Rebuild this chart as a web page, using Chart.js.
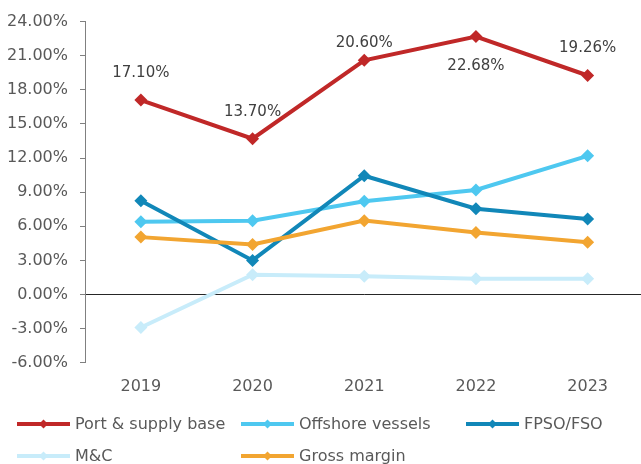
<!DOCTYPE html>
<html>
<head>
<meta charset="utf-8">
<script src="https://cdn.jsdelivr.net/npm/chart.js@4.4.1/dist/chart.umd.min.js"></script>
<style>
  html, body { margin: 0; padding: 0; background: #fff; overflow: hidden; }
  #wrap { width: 650px; height: 464px; }
</style>
</head>
<body>
<div id="wrap"><canvas id="chart" width="650" height="464"></canvas></div>
<script>
// values in %
const YEARS = ['2019', '2020', '2021', '2022', '2023'];
const PORT_SUPPLY = [17.10, 13.70, 20.60, 22.68, 19.26];
const OFFSHORE_VESSELS = [6.4, 6.5, 8.2, 9.2, 12.2];
const FPSO_FSO = [8.25, 3.0, 10.45, 7.55, 6.65];
const M_AND_C = [-2.9, 1.75, 1.6, 1.4, 1.4];
const GROSS_MARGIN = [5.05, 4.4, 6.5, 5.45, 4.6];
const Y_MIN = -6, Y_MAX = 24, Y_STEP = 3;

const FONT = '"DejaVu Sans", Verdana, sans-serif';
const TEXT = '#595959';

const series = [
    { label: 'Port & supply base', data: PORT_SUPPLY, color: '#C02828' },
    { label: 'Offshore vessels', data: OFFSHORE_VESSELS, color: '#4EC8F0' },
    { label: 'FPSO/FSO', data: FPSO_FSO, color: '#1187B8' },
    { label: 'M&C', data: M_AND_C, color: '#C8ECFA' },
    { label: 'Gross margin', data: GROSS_MARGIN, color: '#F2A531' }
];

// labels on the first series; negative dy = above the point
const valueLabels = {
    id: 'valueLabels',
    afterDatasetsDraw(chart, args, opts) {
        const ctx = chart.ctx;
        const meta = chart.getDatasetMeta(0);
        ctx.save();
        ctx.font = '15px ' + FONT;
        ctx.fillStyle = '#404040';
        ctx.textAlign = 'center';
        ctx.textBaseline = 'middle';
        meta.data.forEach((pt, i) => {
            const v = chart.data.datasets[0].data[i];
            ctx.fillText(v.toFixed(2) + '%', pt.x, pt.y + opts.dy[i]);
        });
        ctx.restore();
    }
};

// excel-like legend laid out in fixed columns
const gridLegend = {
    id: 'gridLegend',
    afterDraw(chart, args, opts) {
        const ctx = chart.ctx;
        ctx.save();
        ctx.font = '16px ' + FONT;
        ctx.textBaseline = 'middle';
        chart.data.datasets.forEach((ds, i) => {
            const x = opts.cols[i % 3];
            const y = opts.rows[Math.floor(i / 3)];
            ctx.strokeStyle = ds.borderColor;
            ctx.lineWidth = 4;
            ctx.beginPath();
            ctx.moveTo(x, y);
            ctx.lineTo(x + 53, y);
            ctx.stroke();
            ctx.fillStyle = ds.borderColor;
            ctx.beginPath();
            ctx.moveTo(x + 26.5, y - 4.5);
            ctx.lineTo(x + 31, y);
            ctx.lineTo(x + 26.5, y + 4.5);
            ctx.lineTo(x + 22, y);
            ctx.closePath();
            ctx.fill();
            ctx.fillStyle = TEXT;
            ctx.fillText(ds.label, x + 58, y + 1);
        });
        ctx.restore();
    }
};

new Chart(document.getElementById('chart'), {
    type: 'line',
    data: {
        labels: YEARS,
        datasets: series.map((s, i) => ({
            label: s.label,
            data: s.data,
            borderColor: s.color,
            backgroundColor: s.color,
            borderWidth: 4,
            pointStyle: 'rectRot',
            pointRadius: 6.5,
            pointBorderWidth: 0,
            tension: 0,
            order: series.length - i
        }))
    },
    options: {
        responsive: false,
        animation: false,
        layout: { padding: { top: 20, right: 4, bottom: 54, left: 0 } },
        plugins: {
            legend: { display: false },
            tooltip: { enabled: false },
            valueLabels: { dy: [-27, -27, -17, 29, -27] },
            gridLegend: { cols: [17, 241, 466], rows: [424, 456] }
        },
        scales: {
            x: {
                offset: true,
                border: { display: false },
                grid: { display: false, drawTicks: false },
                ticks: { color: TEXT, font: { family: FONT, size: 16 }, padding: 14 }
            },
            y: {
                min: Y_MIN, max: Y_MAX,
                afterFit(scale) { scale.width = 85; },
                border: { color: '#808080', width: 1 },
                grid: {
                    color: c => c.tick && c.tick.value === 0 ? '#262626' : 'transparent',
                    tickColor: '#808080',
                    tickLength: 5,
                    lineWidth: 1
                },
                ticks: {
                    stepSize: Y_STEP,
                    padding: 12,
                    color: TEXT,
                    font: { family: FONT, size: 16 },
                    callback: v => v.toFixed(2) + '%'
                }
            }
        }
    },
    plugins: [valueLabels, gridLegend]
});
</script>
</body>
</html>
